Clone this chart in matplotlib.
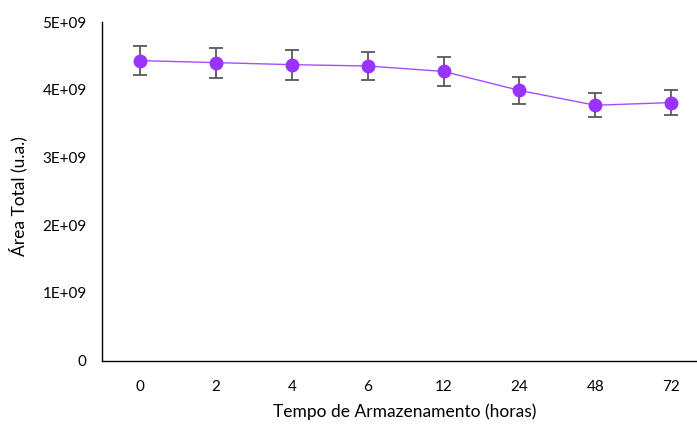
import matplotlib
matplotlib.use('Agg')
import matplotlib.pyplot as plt
from matplotlib.ticker import FuncFormatter

# Área total ao longo do tempo de armazenamento
horas = ['0', '2', '4', '6', '12', '24', '48', '72']
area = [4.43e9, 4.40e9, 4.37e9, 4.35e9, 4.27e9, 3.99e9, 3.77e9, 3.81e9]
erro = [0.22e9, 0.22e9, 0.22e9, 0.21e9, 0.21e9, 0.20e9, 0.18e9, 0.19e9]
y_ticks = [0, 1e9, 2e9, 3e9, 4e9, 5e9]

plt.rcParams['font.family'] = ['Lato', 'DejaVu Sans']

fig = plt.figure(figsize=(6.97, 4.24), dpi=100)
ax = fig.add_axes([102 / 697, 1 - 360.5 / 424, (697 - 102) / 697, (360.5 - 22) / 424])

x = list(range(len(horas)))
ax.errorbar(x, area, yerr=erro, fmt='none', ecolor='#595959', elinewidth=1.3,
            capsize=5, capthick=1.3, zorder=2)
ax.plot(x, area, color='#a64dff', linewidth=1.0, zorder=3)
ax.plot(x, area, linestyle='none', marker='o', markersize=9,
        markerfacecolor='#9933ff', markeredgecolor='#9933ff', zorder=4)

ax.set_ylim(0, 5e9)
ax.set_xlim(-0.5, 7.34)
ax.set_yticks(y_ticks)
ax.yaxis.set_major_formatter(FuncFormatter(lambda v, p: '0' if v == 0 else f'{int(round(v / 1e9))}E+09'))
ax.set_xticks(x)
ax.set_xticklabels(horas)
ax.tick_params(axis='both', length=0, labelsize=11, colors='black')
ax.tick_params(axis='x', pad=14)
ax.tick_params(axis='y', pad=11)

ax.spines['top'].set_visible(False)
ax.spines['right'].set_visible(False)
ax.spines['left'].set_color('black')
ax.spines['bottom'].set_color('black')
ax.spines['left'].set_linewidth(1.0)
ax.spines['bottom'].set_linewidth(1.0)

ax.set_xlabel('Tempo de Armazenamento (horas)', fontsize=12.5)
ax.set_ylabel('Área Total (u.a.)', fontsize=12.5)
ax.xaxis.set_label_coords((405 - 102) / 595, -(412 - 360.5) / 338.5)
ax.yaxis.set_label_coords(-(102 - 18) / 595, (360.5 - 196) / 338.5)
ax.xaxis.label.set_va('center')
ax.yaxis.label.set_va('center')

fig.savefig('out.png', dpi=100)
